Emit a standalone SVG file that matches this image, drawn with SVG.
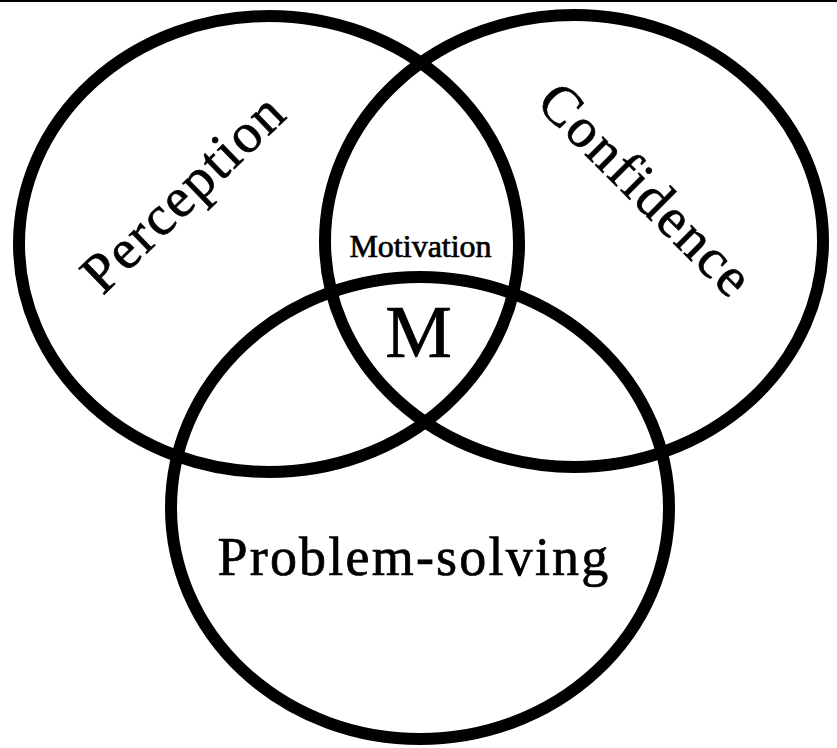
<svg xmlns="http://www.w3.org/2000/svg" width="837" height="748" viewBox="0 0 837 748">
<style>
.c{fill:none;stroke:#000;stroke-width:12}
.t{font-family:"Liberation Serif","Times New Roman",serif;fill:#000;stroke:#000;stroke-width:0.7}
</style>
<rect width="837" height="748" fill="#fff"/>
<line x1="0" y1="1" x2="837" y2="1" stroke="#000" stroke-width="2"/>
<g id="connectors"></g>
<g id="perception">
<ellipse class="c" cx="269" cy="244" rx="250" ry="228"/>
<text class="t" font-size="56" letter-spacing="2" text-anchor="middle" transform="translate(196,206) rotate(-44)">Perception</text>
</g>
<g id="confidence">
<ellipse class="c" cx="574" cy="241" rx="249" ry="226"/>
<text class="t" font-size="56" letter-spacing="2" text-anchor="middle" transform="translate(633,203) rotate(45)">Confidence</text>
</g>
<g id="problem-solving">
<ellipse class="c" cx="420" cy="508" rx="249" ry="231"/>
<text class="t" font-size="54" letter-spacing="2.2" text-anchor="middle" x="414" y="575">Problem-solving</text>
</g>
<g id="motivation">
<text class="t" font-size="32" stroke-width="0" text-anchor="middle" x="420.5" y="257">Motivation</text>
<text class="t" font-size="75" stroke-width="1.6" text-anchor="middle" x="418.5" y="357">M</text>
</g>
</svg>
